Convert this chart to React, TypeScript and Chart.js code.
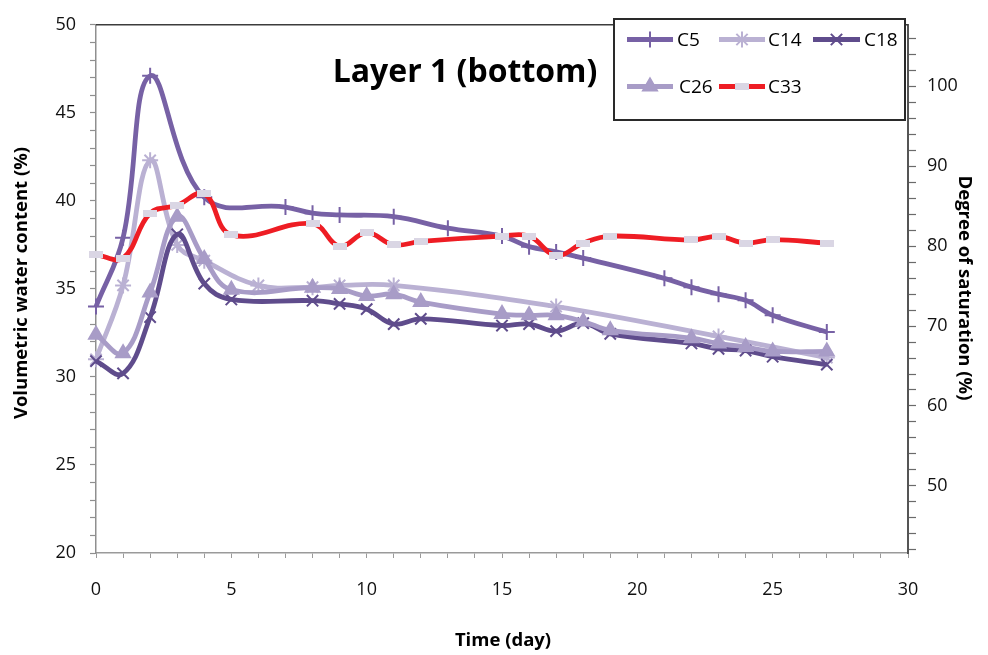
import React, { useEffect, useRef } from "react";
import { Chart, registerables } from "chart.js";
import { drawPoint } from "chart.js/helpers";

Chart.register(...registerables);

// ---------- data ----------
const X_TICK_LABELS = [0, 5, 10, 15, 20, 25, 30];
const Y_TICK_LABELS = [20, 25, 30, 35, 40, 45, 50];
const Y2_TICK_LABELS = [50, 60, 70, 80, 90, 100];

const C5_DAYS = [0, 1, 2, 4, 7, 8, 9, 11, 13, 15, 16, 17, 18, 21, 22, 23, 24, 25, 27];
const C5_VALUES = [34.0, 37.9, 47.1, 40.2, 39.65, 39.3, 39.2, 39.1, 38.45, 38.0, 37.4, 37.1, 36.75, 35.6, 35.1, 34.7, 34.35, 33.5, 32.55];

const C14_DAYS = [0, 1, 2, 3, 4, 6, 8, 9, 11, 17, 23, 27];
const C14_VALUES = [31.0, 35.2, 42.3, 37.5, 36.6, 35.2, 35.1, 35.2, 35.2, 34.0, 32.3, 31.1];

const C18_DAYS = [0, 1, 2, 3, 4, 5, 8, 9, 10, 11, 12, 15, 16, 17, 18, 19, 22, 23, 24, 25, 27];
const C18_VALUES = [30.9, 30.2, 33.4, 38.1, 35.3, 34.4, 34.33, 34.15, 33.85, 33.0, 33.3, 32.92, 33.0, 32.6, 33.05, 32.45, 31.9, 31.6, 31.5, 31.15, 30.7];

const C26_DAYS = [0, 1, 2, 3, 4, 5, 8, 9, 10, 11, 12, 15, 16, 17, 18, 19, 22, 23, 24, 25, 27];
const C26_VALUES = [32.4, 31.35, 34.8, 39.1, 36.7, 34.95, 35.07, 35.0, 34.6, 34.7, 34.25, 33.57, 33.5, 33.5, 33.15, 32.65, 32.2, 31.9, 31.7, 31.45, 31.45];

const C33_DAYS = [0, 1, 2, 3, 4, 5, 8, 9, 10, 11, 12, 15, 16, 17, 18, 19, 22, 23, 24, 25, 27];
const C33_VALUES = [36.95, 36.75, 39.3, 39.75, 40.4, 38.07, 38.7, 37.42, 38.2, 37.5, 37.7, 38.0, 38.0, 36.9, 37.6, 38.0, 37.78, 37.98, 37.6, 37.8, 37.6];

const SERIES_LABELS = ["C5", "C14", "C18", "C26", "C33"];

const pts = (days: number[], vals: number[]) => days.map((d, i) => ({ x: d, y: vals[i] }));

const FONT = "'Open Sans', 'Noto Sans', sans-serif";

function dashMarker(): HTMLCanvasElement {
  const c = document.createElement("canvas");
  c.width = 14;
  c.height = 7;
  const g = c.getContext("2d")!;
  g.fillStyle = "#DAD6E4";
  g.fillRect(0, 0, 14, 7);
  return c;
}

const overlayPlugin = {
  id: "overlay",
  afterDraw(chart: any) {
    const { ctx, chartArea } = chart;
    ctx.save();
    // top frame line
    ctx.strokeStyle = "#3c3c3c";
    ctx.lineWidth = 1.5;
    ctx.beginPath();
    ctx.moveTo(chartArea.left, chartArea.top);
    ctx.lineTo(chartArea.right, chartArea.top);
    ctx.stroke();

    // legend box
    ctx.fillStyle = "#ffffff";
    ctx.fillRect(614, 19, 291, 101);
    ctx.strokeStyle = "#2a2a2a";
    ctx.lineWidth = 2;
    ctx.strokeRect(614, 19, 291, 101);

    const slots = [
      { x0: 627, x1: 673, y: 39.5, tx: 677 },
      { x0: 719, x1: 765, y: 39.5, tx: 768 },
      { x0: 813, x1: 860, y: 39.5, tx: 864 },
      { x0: 627, x1: 673, y: 86.5, tx: 679 },
      { x0: 719, x1: 765, y: 86.5, tx: 768 },
    ];
    chart.data.datasets.forEach((ds: any, i: number) => {
      const s = slots[i];
      if (!s) return;
      ctx.strokeStyle = ds.borderColor;
      ctx.lineWidth = ds.borderWidth;
      ctx.lineCap = "butt";
      ctx.beginPath();
      ctx.moveTo(s.x0, s.y);
      ctx.lineTo(s.x1, s.y);
      ctx.stroke();
      ctx.strokeStyle = ds.pointBorderColor;
      ctx.fillStyle = ds.pointBackgroundColor;
      ctx.lineWidth = ds.pointBorderWidth;
      drawPoint(ctx, { pointStyle: ds.pointStyle, radius: ds.pointRadius, rotation: 0, borderWidth: ds.pointBorderWidth }, (s.x0 + s.x1) / 2, s.y);
      ctx.fillStyle = "#000";
      ctx.font = `19px ${FONT}`;
      ctx.textAlign = "left";
      ctx.textBaseline = "middle";
      ctx.fillText(ds.label, s.tx, s.y + 1);
    });

    // chart title
    ctx.fillStyle = "#000";
    ctx.font = `bold 32px ${FONT}`;
    ctx.textAlign = "center";
    ctx.textBaseline = "alphabetic";
    ctx.fillText("Layer 1 (bottom)", 465, 82);

    // axis titles
    ctx.font = `bold 18.5px ${FONT}`;
    ctx.textBaseline = "middle";
    ctx.fillText("Time (day)", 503, 641);

    ctx.save();
    ctx.translate(22, 283);
    ctx.rotate(-Math.PI / 2);
    ctx.fillText("Volumetric water content (%)", 0, 0);
    ctx.restore();

    ctx.save();
    ctx.translate(964, 288);
    ctx.rotate(Math.PI / 2);
    ctx.fillText("Degree of saturation (%)", 0, 0);
    ctx.restore();

    ctx.restore();
  },
};

export default function App() {
  const ref = useRef<HTMLCanvasElement | null>(null);

  useEffect(() => {
    if (!ref.current) return;
    const dash = dashMarker();
    const mk = (label: string, data: any[], color: string, style: any, order: number, extra: any = {}) => ({
      label,
      data,
      borderColor: color,
      borderWidth: 4.8,
      pointStyle: style,
      pointRadius: 8,
      pointBorderWidth: 2,
      pointBorderColor: color,
      pointBackgroundColor: color,
      tension: 0.4,
      fill: false,
      clip: false,
      order,
      ...extra,
    });
    const chart = new Chart(ref.current, {
      type: "line",
      data: {
        datasets: [
          mk(SERIES_LABELS[0], pts(C5_DAYS, C5_VALUES), "#7761A5", "cross", 4),
          mk(SERIES_LABELS[1], pts(C14_DAYS, C14_VALUES), "#BAB1D3", "star", 3),
          mk(SERIES_LABELS[2], pts(C18_DAYS, C18_VALUES), "#5F4C8C", "crossRot", 2),
          mk(SERIES_LABELS[3], pts(C26_DAYS, C26_VALUES), "#A89CC7", "triangle", 1, { pointRadius: 8 }),
          mk(SERIES_LABELS[4], pts(C33_DAYS, C33_VALUES), "#EE1D24", dash, 0, {
            pointBorderColor: "#DAD6E4",
            pointBackgroundColor: "#DAD6E4",
            pointBorderWidth: 0,
            pointRadius: 7,
          }),
        ],
      },
      options: {
        animation: false,
        responsive: false,
        maintainAspectRatio: false,
        layout: { padding: { top: 19, left: 0, right: 0, bottom: 0 } },
        plugins: { legend: { display: false }, tooltip: { enabled: false }, title: { display: false } },
        scales: {
          x: {
            type: "linear",
            position: "bottom",
            min: 0,
            max: 30,
            afterBuildTicks: (s: any) => {
              s.ticks = Array.from({ length: 31 }, (_, i) => ({ value: i }));
            },
            afterFit: (s: any) => {
              s.height = 102;
            },
            ticks: {
              autoSkip: false,
              maxRotation: 0,
              padding: 21,
              color: "#111",
              font: { family: FONT, size: 18 },
              callback: (v: any) => (X_TICK_LABELS.includes(v) ? String(v) : ""),
            },
            grid: { drawOnChartArea: false, tickLength: 5, color: "#9a9a9a", tickWidth: 1 },
            border: { color: "#9a9a9a", width: 1.5 },
          },
          y: {
            type: "linear",
            position: "left",
            min: 20,
            max: 50,
            afterBuildTicks: (s: any) => {
              s.ticks = Array.from({ length: 31 }, (_, i) => ({ value: 20 + i }));
            },
            afterFit: (s: any) => {
              s.width = 96;
            },
            ticks: {
              autoSkip: false,
              padding: 14,
              color: "#111",
              font: { family: FONT, size: 18 },
              callback: (v: any) => (Y_TICK_LABELS.includes(v) ? String(v) : ""),
            },
            grid: { drawOnChartArea: false, tickLength: 6, color: "#8f8f8f", tickWidth: 1.2 },
            border: { color: "#8f8f8f", width: 1.5 },
          },
          y2: {
            type: "linear",
            position: "right",
            min: 41.6,
            max: 107.7,
            afterBuildTicks: (s: any) => {
              s.ticks = Array.from({ length: 33 }, (_, i) => ({ value: 42 + i * 2 }));
            },
            afterFit: (s: any) => {
              s.width = 80;
            },
            ticks: {
              autoSkip: false,
              padding: 11,
              color: "#111",
              font: { family: FONT, size: 18 },
              callback: (v: any) => (Y2_TICK_LABELS.includes(v) ? String(v) : ""),
            },
            grid: { drawOnChartArea: false, tickLength: 8, color: "#6a6a6a", tickWidth: 1.2 },
            border: { color: "#555", width: 2 },
          },
        },
      },
      plugins: [overlayPlugin],
    } as any);
    return () => chart.destroy();
  }, []);

  return (
    <div style={{ position: "fixed", left: 0, top: 0, width: 988, height: 655, background: "#fff" }}>
      <canvas ref={ref} width={988} height={655} style={{ display: "block" }} />
    </div>
  );
}
